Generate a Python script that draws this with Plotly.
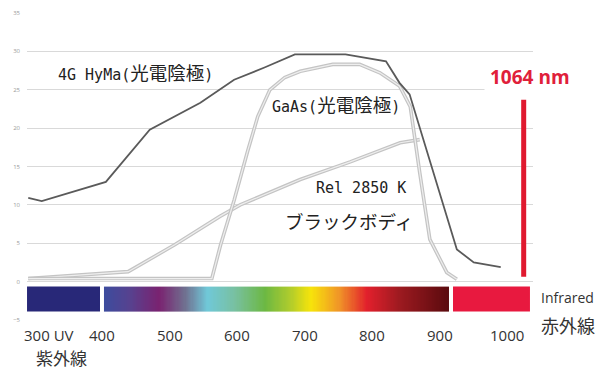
import plotly.graph_objects as go

# ---- data ----
hyma_nm = [290, 310, 405, 470, 545, 595, 640, 685, 760, 820, 840, 855, 925, 950, 990]
hyma_val = [10.9, 10.5, 13.0, 19.8, 23.3, 26.3, 27.9, 29.6, 29.6, 28.7, 25.9, 24.4, 4.2, 2.5, 1.9]

gaas_nm = [290, 562, 575, 595, 615, 630, 648, 670, 693, 741, 781, 811, 840, 856, 870, 885, 910, 925]
gaas_val = [0.4, 0.4, 4.8, 10.6, 17.0, 21.5, 25.0, 26.6, 27.4, 28.3, 28.3, 27.2, 25.5, 22.8, 14.2, 5.5, 1.2, 0.3]

rel_nm = [290, 438, 507, 574, 604, 693, 767, 841, 870]
rel_val = [0.4, 1.3, 4.8, 8.5, 10.0, 13.3, 15.6, 18.1, 18.5]

y_ticks = [-5, 0, 5, 10, 15, 20, 25, 30, 35]
x_tick_vals = [400, 500, 600, 700, 800, 900, 1000]
x_tick_text = ["400", "500", "600", "700", "800", "900", "1000"]

laser_pos = [1024, 1024]
laser_span = [0.65, 23.7]

spectrum_start, spectrum_end = 402.2, 913.3
uv_block = (288.2, 396.3)
ir_block = (919.3, 1033.3)
bar_y = (-0.65, -3.9)

X_RANGE = [288.15, 1037.8]
Y_RANGE = [-5, 35]

# ---- figure ----
fig = go.Figure()

n = 300
edges = [spectrum_start + (spectrum_end - spectrum_start) * i / n for i in range(n + 1)]
zrow = [(i + 0.5) / n for i in range(n)]
spec_scale = [
    [0.0, "#3c4c9e"], [0.075, "#57428f"], [0.16, "#7a2270"], [0.235, "#707090"],
    [0.30, "#70c8d8"], [0.38, "#78c0a0"], [0.467, "#6cb842"], [0.54, "#b0cc2c"],
    [0.60, "#f7e40a"], [0.684, "#f09228"], [0.762, "#e2202c"], [0.858, "#9c1a20"],
    [1.0, "#5a0a0e"],
]
fig.add_trace(go.Heatmap(
    z=[zrow], x=edges, y=[bar_y[1], bar_y[0]], colorscale=spec_scale,
    zmin=0, zmax=1, showscale=False, hoverinfo="skip",
))

fig.add_shape(type="rect", x0=uv_block[0], x1=uv_block[1], y0=bar_y[1], y1=bar_y[0],
              fillcolor="#282878", line_width=0, layer="above")
fig.add_shape(type="rect", x0=ir_block[0], x1=ir_block[1], y0=bar_y[1], y1=bar_y[0],
              fillcolor="#e8193f", line_width=0, layer="above")

for xs, ys in [(rel_nm, rel_val), (gaas_nm, gaas_val)]:
    fig.add_trace(go.Scatter(x=xs, y=ys, mode="lines",
                             line=dict(color="#c4c4c4", width=3.6), hoverinfo="skip"))
    fig.add_trace(go.Scatter(x=xs, y=ys, mode="lines",
                             line=dict(color="#eeeeee", width=1.2), hoverinfo="skip"))

fig.add_trace(go.Scatter(x=hyma_nm, y=hyma_val, mode="lines",
                         line=dict(color="#5a5a5a", width=1.8), hoverinfo="skip"))

fig.add_trace(go.Scatter(x=laser_pos, y=laser_span, mode="lines",
                         line=dict(color="#e0192f", width=5), hoverinfo="skip"))

JP = "Noto Sans CJK JP"
MONO = "DejaVu Sans Mono"
LAT = "Open Sans"


def px(x):
    return (x - X_RANGE[0]) / (X_RANGE[1] - X_RANGE[0])


def py(y):
    return (y - Y_RANGE[0]) / (Y_RANGE[1] - Y_RANGE[0])


def ann(text, x, y, size, color="#222222", anchor="left", family=JP, **kw):
    fig.add_annotation(text=text, x=px(x), y=py(y), xref="paper", yref="paper",
                       showarrow=False, xanchor=anchor, yanchor="middle",
                       font=dict(size=size, color=color, family=family), **kw)


def m(s):
    return f'<span style="font-family:{MONO};font-size:15px">{s}</span>'


ann(m("4G HyMa(") + "光電陰極" + m(")"), 331, 27.3, 18.5)
ann(m("GaAs(") + "光電陰極" + m(")"), 648, 23.1, 18.5)
ann(m("Rel 2850 K"), 714, 12.25, 18)
ann("ブラックボディ", 668, 7.95, 18.5)
ann("<b>1064 nm</b>", 1033, 26.6, 19, color="#e0203a", anchor="center", family=LAT,
    bgcolor="white", borderpad=5)

for v, t in zip(x_tick_vals, x_tick_text):
    ann(t, v, -7.0, 15, color="#333333", anchor="center", family=LAT)
ann("300 UV", 281, -7.0, 15, color="#333333", family=LAT)
ann("紫外線", 339, -9.9, 17, color="#333333", anchor="center")
ann("Infrared", 1047, -2.1, 14, color="#333333", family=LAT)
ann("赤外線", 1046, -5.7, 18, color="#333333")

fig.update_layout(
    width=601, height=369,
    margin=dict(l=27, r=68, t=13, b=49),
    paper_bgcolor="white", plot_bgcolor="white",
    showlegend=False,
    xaxis=dict(range=X_RANGE, showgrid=False, zeroline=False, automargin=False,
               showticklabels=False, ticks="", showline=False),
    yaxis=dict(range=Y_RANGE, tickvals=y_ticks, showgrid=True, gridcolor="#d9d9d9",
               gridwidth=1, zeroline=False, showline=False, ticks="", automargin=False,
               tickfont=dict(size=6, color="#9a9a9a", family=LAT), ticklabelstandoff=6),
)

fig.write_html("out.html", config={"displayModeBar": False},
               post_script="document.body.style.margin='0px';")
